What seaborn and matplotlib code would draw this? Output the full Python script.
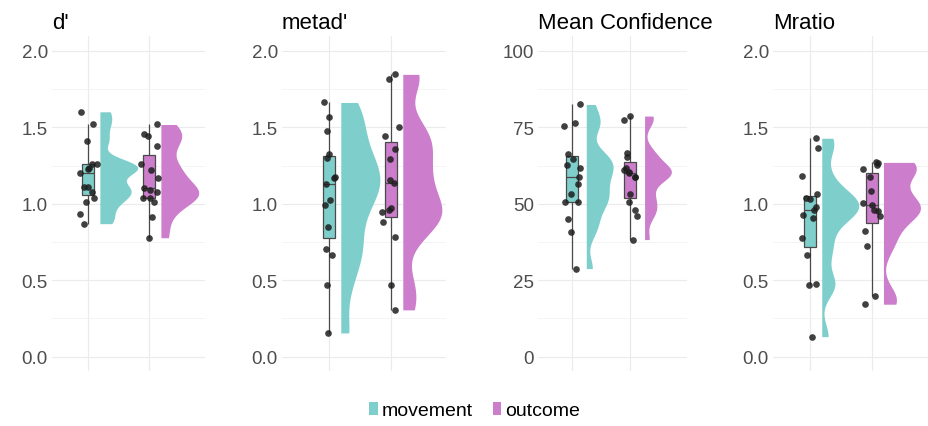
import numpy as np
import pandas as pd
import matplotlib
matplotlib.use("Agg")
import matplotlib.pyplot as plt
from matplotlib.patches import Patch
import seaborn as sns

# values (15 participants per condition)
conditions = ["movement", "outcome"]
panel_titles = ["d'", "metad'", "Mean Confidence", "Mratio"]

dprime_movement = [1.602, 1.521, 1.414, 1.259, 1.259, 1.237, 1.226, 1.204,
                   1.111, 1.111, 1.077, 1.040, 1.012, 0.933, 0.870]
dprime_outcome = [1.519, 1.454, 1.445, 1.379, 1.263, 1.220, 1.171, 1.104,
                  1.091, 1.080, 1.036, 1.036, 1.014, 0.911, 0.778]

metad_movement = [1.663, 1.565, 1.477, 1.329, 1.301, 1.176, 1.171, 1.128,
                  1.023, 0.992, 0.850, 0.702, 0.662, 0.468, 0.155]
metad_outcome = [1.847, 1.816, 1.500, 1.443, 1.360, 1.290, 1.156, 1.139,
                 0.972, 0.962, 0.944, 0.881, 0.785, 0.468, 0.306]

conf_movement = [82.5, 76.6, 75.6, 66.2, 64.8, 62.6, 61.8, 58.9,
                 56.6, 53.3, 50.6, 50.6, 44.9, 40.9, 28.8]
conf_outcome = [78.7, 77.3, 66.7, 65.4, 61.8, 61.0, 60.4, 60.1,
                58.8, 58.8, 53.3, 50.7, 48.0, 46.0, 38.3]

mratio_movement = [1.429, 1.364, 1.184, 1.064, 1.035, 1.031, 0.976, 0.959,
                   0.930, 0.904, 0.773, 0.666, 0.472, 0.469, 0.131]
mratio_outcome = [1.271, 1.265, 1.256, 1.225, 1.173, 1.081, 1.004, 0.991,
                  0.959, 0.954, 0.921, 0.823, 0.725, 0.397, 0.343]

yticks_unit = [0, 0.5, 1.0, 1.5, 2.0]
yticks_conf = [0, 25, 50, 75, 100]

palette = {"movement": "#7ECFCC", "outcome": "#CC7ECC"}

panel_data = [
    (dprime_movement, dprime_outcome),
    (metad_movement, metad_outcome),
    (conf_movement, conf_outcome),
    (mratio_movement, mratio_outcome),
]

# layout (pixels in a 929x427 figure) and per-panel styling
W, H = 929, 427
panel_px = [(52, 205), (282, 446), (538, 687), (773, 928)]
top_px, bottom_px = 37, 372
xlims = [(-0.595, 1.913), (-0.758, 1.887), (-0.578, 1.978), (-0.60, 1.912)]
ylims = [(-0.094, 2.098), (-0.094, 2.098), (-4.7, 104.9), (-0.094, 2.098)]
yticks = [yticks_unit, yticks_unit, yticks_conf, yticks_unit]
violin_width = [1.24, 1.26, 0.92, 1.20]
violin_nudge = [0.19, 0.19, 0.25, 0.19]
title_x = [0.0, 0.067, 0.0, 0.0]


def nrd0_factor(kde):
    # R's default bandwidth (bw.nrd0), expressed relative to the data sd
    x = kde.dataset[0]
    sd = x.std(ddof=1)
    iqr = np.subtract(*np.percentile(x, [75, 25]))
    bw = 0.9 * min(sd, iqr / 1.34) * len(x) ** -0.2
    return bw / sd


def flatten_violins(ax, start, nudge):
    # keep only the right half of each violin and push it to the right
    for coll in ax.collections[start:]:
        new_verts = []
        for path in coll.get_paths():
            v = path.vertices.copy()
            c = (v[:, 0].min() + v[:, 0].max()) / 2
            v[:, 0] = np.maximum(v[:, 0], c) + nudge
            new_verts.append(v)
        coll.set_verts(new_verts)


plt.rcParams["font.family"] = ["Liberation Sans", "DejaVu Sans"]
np.random.seed(7)

fig = plt.figure(figsize=(W / 100, H / 100), dpi=100)

for i, (title, (mov, out)) in enumerate(zip(panel_titles, panel_data)):
    left, right = panel_px[i]
    ax = fig.add_axes([left / W, 1 - bottom_px / H, (right - left) / W, (bottom_px - top_px) / H])

    df = pd.DataFrame({
        "condition": ["movement"] * len(mov) + ["outcome"] * len(out),
        "value": mov + out,
    })

    n0 = len(ax.collections)
    sns.violinplot(data=df, x="condition", y="value", hue="condition", order=conditions,
                   hue_order=conditions, palette=palette, saturation=1, inner=None,
                   cut=0, density_norm="area", bw_method=nrd0_factor, bw_adjust=0.65,
                   width=violin_width[i], gridsize=200, linewidth=0, legend=False, ax=ax)
    flatten_violins(ax, n0, violin_nudge[i])

    sns.boxplot(data=df, x="condition", y="value", hue="condition", order=conditions,
                hue_order=conditions, palette=palette, saturation=1, width=0.2,
                showfliers=False, showcaps=False, linewidth=0.9, linecolor="#4a4a4a",
                legend=False, ax=ax)

    sns.stripplot(data=df, x="condition", y="value", order=conditions, color="#1e1e1e",
                  alpha=0.85, size=4.8, jitter=0.15, linewidth=0, zorder=4, ax=ax)

    ax.set_xlim(*xlims[i])
    ax.set_ylim(*ylims[i])
    ticks = yticks[i]
    ax.set_yticks(ticks)
    if ticks[-1] == 100:
        ax.set_yticklabels([str(t) for t in ticks])
    else:
        ax.set_yticklabels([f"{t:.1f}" for t in ticks])
    ax.set_yticks([(a + b) / 2 for a, b in zip(ticks[:-1], ticks[1:])], minor=True)
    ax.set_xticks([0, 1])
    ax.set_xticklabels([])
    ax.set_xlabel("")
    ax.set_ylabel("")
    ax.grid(True, which="major", color="#EBEBEB", linewidth=0.8)
    ax.grid(True, which="minor", axis="y", color="#F2F2F2", linewidth=0.6)
    ax.set_axisbelow(True)
    ax.tick_params(axis="both", which="both", length=0)
    ax.tick_params(axis="y", labelsize=13.5, labelcolor="#4D4D4D", pad=3)
    for s in ax.spines.values():
        s.set_visible(False)
    ax.set_title(title, loc="left", fontsize=16, pad=6, color="black")
    ax.title.set_x(title_x[i])

handles = [Patch(facecolor=palette[c], edgecolor="none", label=c) for c in conditions]
fig.legend(handles=handles, loc="center", bbox_to_anchor=(0.511, 0.037), ncol=2,
           frameon=False, fontsize=14, handlelength=0.45, handleheight=0.65,
           handletextpad=0.2, columnspacing=1.0)

fig.savefig("out.png", dpi=100)
